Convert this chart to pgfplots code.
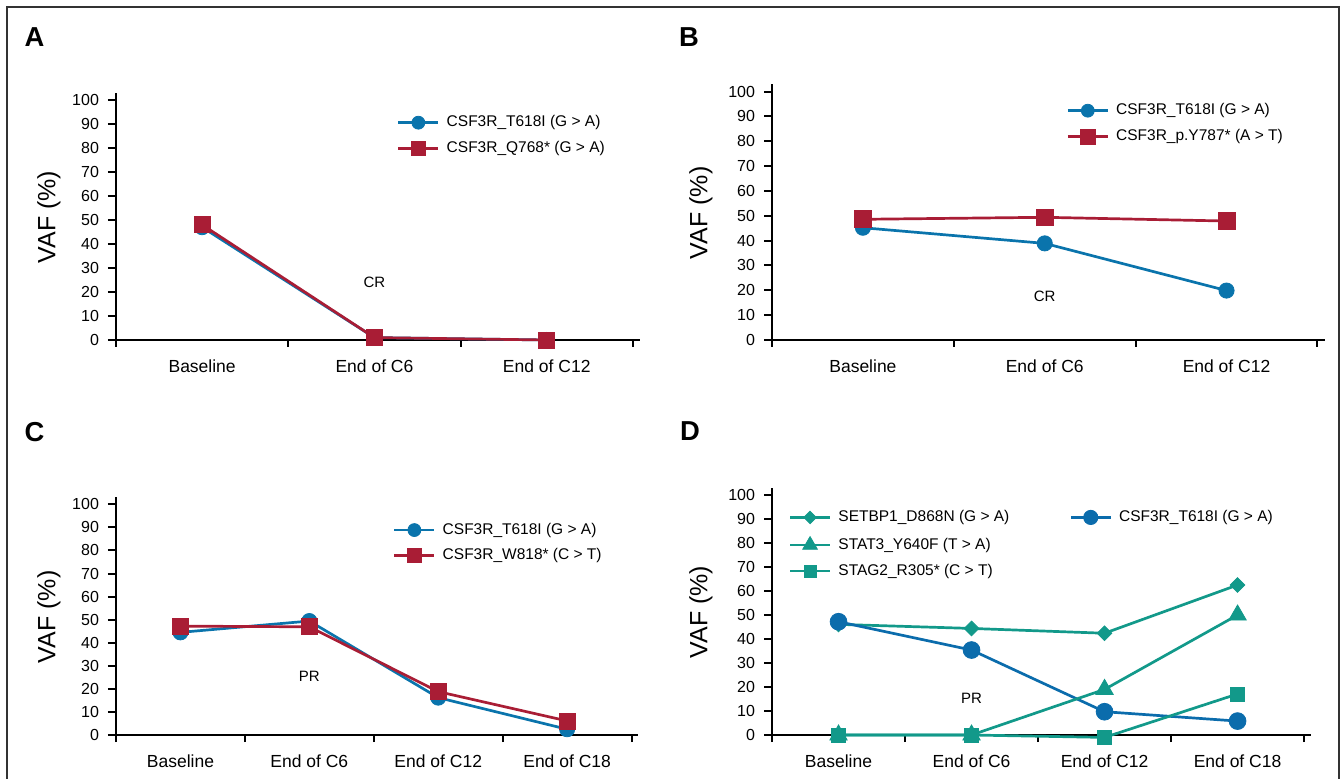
\documentclass[border=0pt]{standalone}
\usepackage{fontspec}
\setmainfont{Liberation Sans}
\usepackage{pgfplots}
\pgfplotsset{compat=1.18}

\definecolor{vblue}{HTML}{0A74AC}
\definecolor{vblueD}{HTML}{0B6CAC}
\definecolor{vred}{HTML}{A91D35}
\definecolor{vteal}{HTML}{12998A}

\pgfplotsset{
  panel/.style={
    scale only axis, clip=false,
    axis lines=left, axis line style={-, line width=1pt},
    xmin=0, ymin=0, ymax=103,
    ytick={0,10,...,100},
    major x tick style={draw=none},
    tick align=outside,
    major tick length=4pt, minor tick length=3.5pt,
    tick style={line width=1pt, black},
    /pgf/number format/assume math mode=true,
    yticklabel style={font=\fontsize{8}{9}\selectfont, xshift=-1pt},
    xticklabel style={font=\fontsize{8.75}{10}\selectfont, yshift=-2.5pt},
    ylabel={VAF (\%)},
    legend cell align=left,
    legend style={draw=none, fill=none, inner sep=0pt, outer sep=0pt,
      row sep=5.75pt, column sep=3.5pt, anchor=north west,
      font=\fontsize{7.75}{9}\selectfont,
      nodes={inner sep=0pt, text height=5.5pt, text depth=1.5pt}},
    legend image code/.code={\draw[mark repeat=2,mark phase=2,#1,
      every mark/.append style={scale=0.85}]
      plot coordinates {(0pt,0pt)(10pt,0pt)(20pt,0pt)};},
    legend image post style={line width=1.35pt},
    every axis plot/.append style={line width=1.35pt,
      mark options={solid, line width=0.4pt}},
  },
  ylab/.style={every axis y label/.style={at={(axis description cs:0,0.497)},
    xshift=#1, rotate=90, anchor=center, font=\fontsize{12.5}{14}\selectfont}},
  three/.style={xmax=3.04, xtick={0.5,1.5,2.5}, minor xtick={0,1,2,3},
    xticklabels={Baseline, End of C6, End of C12}},
  four/.style={xmax=4.05, xtick={0.5,1.5,2.5,3.5}, minor xtick={0,1,2,3,4},
    xticklabels={Baseline, End of C6, End of C12, End of C18}},
}

\begin{document}
\begin{tikzpicture}
\draw[line width=1pt, black!80] (3.5pt,-389.5pt) -- (3.5pt,-3.5pt) -- (669.5pt,-3.5pt) -- (669.5pt,-389.5pt);

\node[font=\bfseries\fontsize{13.7}{15}\selectfont] at (17.25pt,-18.5pt) {A};
\node[font=\bfseries\fontsize{13.7}{15}\selectfont] at (344.5pt,-18.5pt) {B};
\node[font=\bfseries\fontsize{13.7}{15}\selectfont] at (17.25pt,-216pt) {C};
\node[font=\bfseries\fontsize{13.7}{15}\selectfont] at (345pt,-215.5pt) {D};

% A
\begin{axis}[panel, three, ylab=-33.5pt,
  at={(58pt,-170pt)}, anchor=south west, width=261.9pt, height=123.6pt,
  legend style={at={(0.5365,0.9074)}}]
\addplot[color=vblue, mark=*, mark size=3.8pt] coordinates {(0.5,47) (1.5,1) (2.5,0)};
\addlegendentry{CSF3R\_T618I (G > A)}
\addplot[color=vred, mark=square*, mark size=4pt] coordinates {(0.5,48) (1.5,1) (2.5,0)};
\addlegendentry{CSF3R\_Q768* (G > A)}
\node[font=\fontsize{7.5}{8}\selectfont] at (axis cs:1.5,24) {CR};
\end{axis}

% B
\begin{axis}[panel, three, ylab=-35.5pt,
  at={(386pt,-170pt)}, anchor=south west, width=276.35pt, height=127.9pt,
  legend style={at={(0.5327,0.9238)}, row sep=6pt}]
\addplot[color=vblue, mark=*, mark size=3.8pt] coordinates {(0.5,45.2) (1.5,38.9) (2.5,19.9)};
\addlegendentry{CSF3R\_T618I (G > A)}
\addplot[color=vred, mark=square*, mark size=4.2pt] coordinates {(0.5,48.6) (1.5,49.4) (2.5,47.9)};
\addlegendentry{CSF3R\_p.Y787* (A > T)}
\node[font=\fontsize{7.5}{8}\selectfont] at (axis cs:1.5,17.4) {CR};
\end{axis}

% C
\begin{axis}[panel, four, ylab=-33.5pt,
  at={(58pt,-367.5pt)}, anchor=south west, width=261pt, height=118.8pt,
  legend style={at={(0.5307,0.892)}}]
\addplot[color=vblue, mark=*, mark size=3.8pt] coordinates {(0.5,44.5) (1.5,49.4) (2.5,16.2) (3.5,2.5)};
\addlegendentry{CSF3R\_T618I (G > A)}
\addplot[color=vred, mark=square*, mark size=4pt] coordinates {(0.5,47.2) (1.5,46.9) (2.5,18.8) (3.5,6.1)};
\addlegendentry{CSF3R\_W818* (C > T)}
\node[font=\fontsize{7.5}{8}\selectfont] at (axis cs:1.5,25.6) {PR};
\end{axis}

% D
\begin{axis}[panel, four, ylab=-35.5pt,
  at={(386pt,-367.5pt)}, anchor=south west, width=269.35pt, height=123.6pt,
  legend columns=2,
  legend style={at={(0.031,0.909)}, row sep=6pt,
    /tikz/every even column/.append style={column sep=30pt}}]
\addplot[color=vteal, mark=square*, mark size=2.6pt,
  mark options={solid, line width=0.4pt, rotate=45}]
  coordinates {(0.5,46.1) (1.5,44.4) (2.5,42.4) (3.5,62.5)};
\addlegendentry{SETBP1\_D868N (G > A)}
\addplot[color=vblueD, mark=*, mark size=4.2pt] coordinates {(0.5,47.2) (1.5,35.4) (2.5,9.7) (3.5,5.8)};
\addlegendentry{CSF3R\_T618I (G > A)}
\addplot[color=vteal, mark=triangle*, mark size=5pt] coordinates {(0.5,0) (1.5,0) (2.5,19) (3.5,50)};
\addlegendentry{STAT3\_Y640F (T > A)}
\addlegendimage{empty legend}
\addlegendentry{}
\addplot[color=vteal, mark=square*, mark size=3.5pt] coordinates {(0.5,0) (1.5,0) (2.5,-1) (3.5,17.1)};
\addlegendentry{STAG2\_R305* (C > T)}
\node[font=\fontsize{7.5}{8}\selectfont] at (axis cs:1.5,15.3) {PR};
\end{axis}

\pgfresetboundingbox
\path[use as bounding box] (0,0) rectangle (671pt,-389.5pt);
\end{tikzpicture}
\end{document}
